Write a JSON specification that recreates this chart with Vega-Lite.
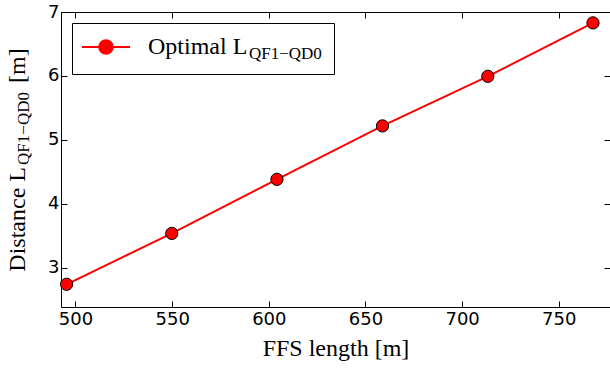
{
  "$schema": "https://vega.github.io/schema/vega-lite/v6.json",
  "width": 549,
  "height": 295,
  "autosize": "none",
  "padding": {"left": 61, "top": 12, "right": 0, "bottom": 64},
  "background": "white",
  "config": {
    "view": {"stroke": "black", "strokeWidth": 1},
    "axis": {
      "grid": false,
      "domain": false,
      "tickColor": "black",
      "tickWidth": 1,
      "tickSize": -6,
      "labelFont": "DejaVu Sans",
      "labelFontSize": 18,
      "labelColor": "black",
      "titleFont": "Liberation Serif",
      "titleFontWeight": "normal",
      "titleColor": "black"
    }
  },
  "data": {
    "values": [
      {"ffs": 495.4, "dist": 2.745, "series": "Optimal L"},
      {"ffs": 549.8, "dist": 3.54, "series": "Optimal L"},
      {"ffs": 604.2, "dist": 4.385, "series": "Optimal L"},
      {"ffs": 658.8, "dist": 5.22, "series": "Optimal L"},
      {"ffs": 713.3, "dist": 5.995, "series": "Optimal L"},
      {"ffs": 767.7, "dist": 6.83, "series": "Optimal L"}
    ]
  },
  "layer": [
    {
      "mark": {"type": "line", "strokeWidth": 2},
      "encoding": {
        "x": {
          "field": "ffs", "type": "quantitative",
          "scale": {"domain": [492.5, 776.5], "nice": false, "zero": false},
          "axis": {
            "orient": "bottom",
            "values": [500, 550, 600, 650, 700, 750],
            "labelPadding": 9,
            "title": "FFS length [m]",
            "titleFontSize": 24,
            "titlePadding": 8
          }
        },
        "y": {
          "field": "dist", "type": "quantitative",
          "scale": {"domain": [2.39, 7], "nice": false, "zero": false},
          "axis": {
            "orient": "left",
            "values": [3, 4, 5, 6, 7],
            "labelPadding": 8,
            "title": "Distance L\u00a0\u00a0\u00a0\u00a0\u00a0\u00a0\u00a0\u00a0\u00a0\u00a0\u00a0\u00a0\u00a0\u00a0[m]",
            "titleFontSize": 24,
            "titleBaseline": "alphabetic",
            "titlePadding": 23
          }
        },
        "stroke": {
          "field": "series", "type": "nominal",
          "scale": {"range": ["#ff0000"]},
          "legend": {
            "orient": "top-left",
            "offset": 11,
            "padding": 12,
            "fillColor": "white",
            "strokeColor": "black",
            "cornerRadius": 0,
            "symbolType": "M-3,0H-0.85M0.85,0H3M-0.85,0A0.85,0.85 0 1,1 0.85,0A0.85,0.85 0 1,1 -0.85,0Z",
            "symbolSize": 256,
            "symbolOffset": 10,
            "symbolStrokeWidth": 2,
            "symbolFillColor": "#ff0000",
            "labelOffset": 30,
            "labelFont": "Liberation Serif",
            "labelFontSize": 24,
            "labelColor": "black",
            "title": "QF1−QD0",
            "titleOrient": "right",
            "titleAnchor": "end",
            "titleFont": "Liberation Serif",
            "titleFontSize": 17,
            "titleFontWeight": "normal",
            "titleColor": "black",
            "titleBaseline": "alphabetic",
            "titlePadding": 2
          }
        }
      }
    },
    {
      "mark": {"type": "point", "filled": true, "fill": "#ff0000", "stroke": "black", "strokeWidth": 1, "size": 150, "opacity": 1},
      "encoding": {
        "x": {
          "field": "ffs", "type": "quantitative",
          "axis": {"orient": "top", "values": [500, 550, 600, 650, 700, 750], "labels": false, "title": null}
        },
        "y": {
          "field": "dist", "type": "quantitative",
          "axis": {
            "orient": "right",
            "values": [3, 4, 5, 6, 7],
            "labels": false,
            "title": "QF1−QD0",
            "titleFontSize": 17,
            "titleAngle": 270,
            "titleBaseline": "alphabetic",
            "titleAlign": "center",
            "titleX": -582,
            "titleY": 116
          }
        }
      }
    }
  ],
  "resolve": {"axis": {"x": "independent", "y": "independent"}}
}
